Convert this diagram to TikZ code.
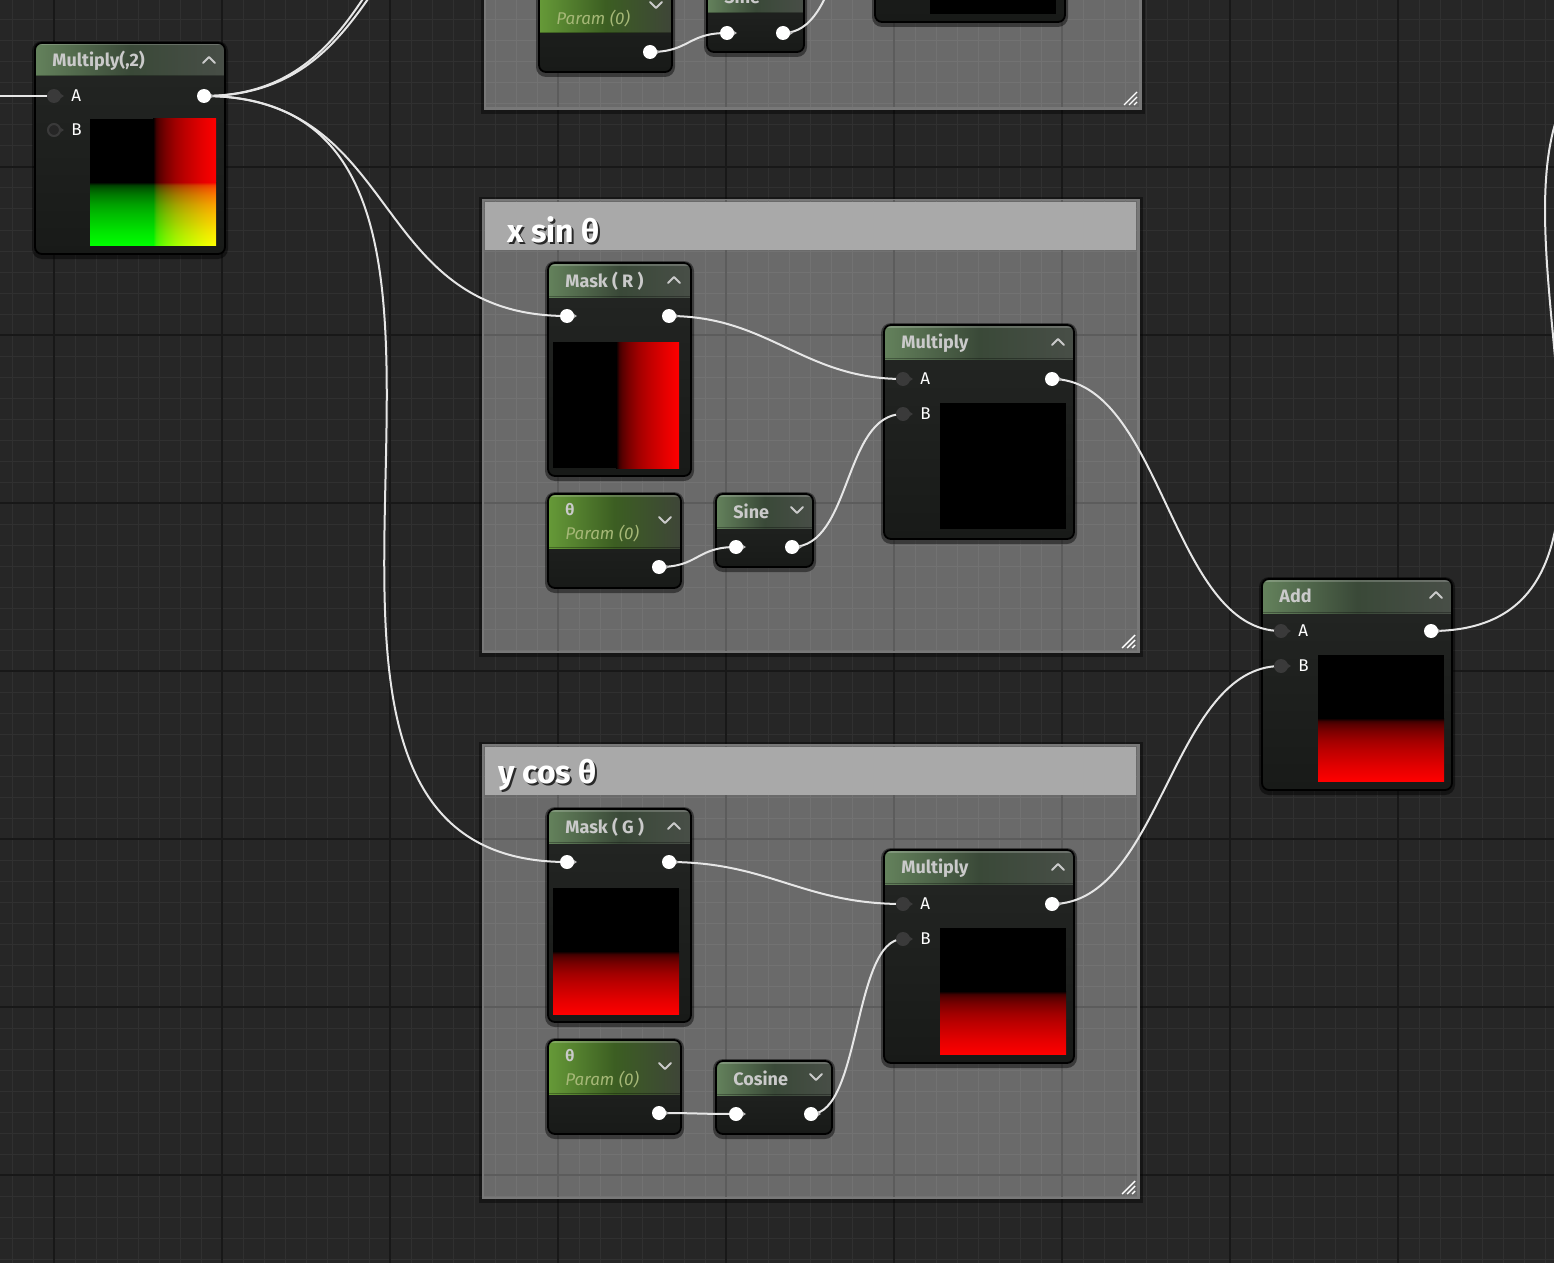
\documentclass[tikz,border=0pt]{standalone}
\usepackage{fontspec}
\setmainfont{Fira Sans}
\usetikzlibrary{calc}
\definecolor{bgc}{HTML}{262626}
\definecolor{gminc}{HTML}{303030}
\definecolor{gmajc}{HTML}{181818}
\definecolor{grpbodyc}{HTML}{6A6A6A}
\definecolor{grpminc}{HTML}{727272}
\definecolor{grpmajc}{HTML}{5C5C5C}
\definecolor{grpedgec}{HTML}{787878}
\definecolor{grphdrc}{HTML}{A9A9A9}
\definecolor{bodyT}{HTML}{242624}
\definecolor{bodyB}{HTML}{181A18}
\definecolor{hdrL}{HTML}{64825C}
\definecolor{hdrM}{HTML}{3A4938}
\definecolor{hdrR}{HTML}{484E47}
\definecolor{phdrL}{HTML}{669A38}
\definecolor{phdrM}{HTML}{3C5E22}
\definecolor{phdrR}{HTML}{3E4538}
\definecolor{titlec}{HTML}{CACACA}
\definecolor{paramc}{HTML}{A6B877}
\definecolor{wirec}{HTML}{E6E6E6}
\definecolor{pindark}{HTML}{3A3A3A}
\definecolor{pintri}{HTML}{B8B8B8}
\pgfdeclarehorizontalshading{rampRh}{100bp}{rgb(0bp)=(0,0,0); rgb(25bp)=(0,0,0); rgb(27.5bp)=(0.25,0,0); rgb(30bp)=(0.35,0,0); rgb(35bp)=(0.48,0,0); rgb(42.5bp)=(0.63,0,0); rgb(50bp)=(0.735,0,0); rgb(62.5bp)=(0.88,0,0); rgb(75bp)=(1,0,0); rgb(100bp)=(1,0,0)}
\pgfdeclareverticalshading{rampRv}{100bp}{rgb(0bp)=(1,0,0); rgb(25bp)=(1,0,0); rgb(37.5bp)=(0.88,0,0); rgb(50bp)=(0.735,0,0); rgb(57.5bp)=(0.63,0,0); rgb(65bp)=(0.48,0,0); rgb(70bp)=(0.35,0,0); rgb(72.5bp)=(0.25,0,0); rgb(75bp)=(0,0,0); rgb(100bp)=(0,0,0)}
\pgfdeclareverticalshading{rampGv}{100bp}{rgb(0bp)=(0,1,0); rgb(25bp)=(0,1,0); rgb(37.5bp)=(0,0.88,0); rgb(50bp)=(0,0.735,0); rgb(57.5bp)=(0,0.63,0); rgb(65bp)=(0,0.48,0); rgb(70bp)=(0,0.35,0); rgb(72.5bp)=(0,0.25,0); rgb(75bp)=(0,0,0); rgb(100bp)=(0,0,0)}
\newcommand\gridlines[2]{%
  \foreach \gx in {12,33,...,1554} \draw[#1] (\gx,-350) -- (\gx,1265);
  \foreach \gy in {-337,-316,...,1263} \draw[#1] (-2,\gy) -- (1556,\gy);
  \foreach \gx in {54,222,...,1554} \draw[#2] (\gx,-350) -- (\gx,1265);
  \foreach \gy in {-337,-169,...,1263} \draw[#2] (-2,\gy) -- (1556,\gy);
}
\newcommand\uegroup[4]{%
  \fill[black,opacity=0.4] (#1-3,#2-2) rectangle (#3+3,#4+4);
  \fill[grpedgec] (#1,#2) rectangle (#3,#4);
  \fill[grpbodyc] (#1+2,#2+2) rectangle (#3-3,#4-3);
  \begin{scope}
    \clip (#1+2,#2+2) rectangle (#3-3,#4-3);
    \gridlines{grpmin}{grpmaj}
  \end{scope}
  \fill[grphdrc] (#1+3,#2+3) rectangle (#3-4,#2+51);
  \draw[white,line width=0.7pt] (#3-18,#4-5) -- (#3-5,#4-18) (#3-13,#4-5) -- (#3-5,#4-13) (#3-8,#4-5) -- (#3-5,#4-8);
}
\newcommand\uebox[6]{%
  \fill[black,opacity=0.45,rounded corners=5pt] (#1-3,#2-2) rectangle (#3+3,#4+5);
  \begin{scope}
    \clip[rounded corners=3.5pt] (#1,#2) rectangle (#3,#4);
    \shade[top color=bodyT,bottom color=bodyB] (#1,#2) rectangle (#3,#4);
    \shade[#6] (#1,#2) rectangle (#3,#5);
    \fill[white,opacity=0.2] (#1,#2) rectangle (#3,#2+2.5);
    \fill[black,opacity=0.3] (#1,#5-1) rectangle (#3,#5);
  \end{scope}
  \draw[black,line width=0.9pt,rounded corners=3.5pt] (#1,#2) rectangle (#3,#4);
}
\newcommand\caretup[1]{\draw[caret] ($(#1)+(-6,3)$) -- ($(#1)+(0,-3)$) -- ($(#1)+(6,3)$);}
\newcommand\caretdn[1]{\draw[caret] ($(#1)+(-6,-3)$) -- ($(#1)+(0,3)$) -- ($(#1)+(6,-3)$);}
\newcommand\pinW[1]{\fill[pintri] ($(#1)+(3,-4.5)$) -- ($(#1)+(10,0)$) -- ($(#1)+(3,4.5)$) -- cycle; \fill[white] (#1) circle[radius=7];}
\newcommand\pinD[1]{\fill[pindark] ($(#1)+(3,-4.5)$) -- ($(#1)+(10,0)$) -- ($(#1)+(3,4.5)$) -- cycle; \fill[pindark] (#1) circle[radius=7];}
\newcommand\pinRing[1]{\fill[pindark] ($(#1)+(3,-4.5)$) -- ($(#1)+(10,0)$) -- ($(#1)+(3,4.5)$) -- cycle; \fill[black!85] (#1) circle[radius=7]; \draw[pindark,line width=1pt] (#1) circle[radius=6];}
\newcommand\wire[3]{\draw[wire] (#1) .. controls ($(#1)+(#3,0)$) and ($(#2)+(-#3,0)$) .. (#2);}
\begin{document}
\begin{tikzpicture}[x=0.5pt,y=-0.5pt,
  gmin/.style={draw=gminc,line width=0.5pt},
  gmaj/.style={draw=gmajc,line width=0.6pt},
  grpmin/.style={draw=grpminc,line width=0.5pt},
  grpmaj/.style={draw=grpmajc,line width=0.6pt},
  hdr/.style={left color=hdrL,right color=hdrR,middle color=hdrM},
  phdr/.style={left color=phdrL,right color=phdrR,middle color=phdrM},
  htitle/.style={text=titlec,font=\fontsize{9}{10}\selectfont\bfseries,anchor=west,inner sep=0pt},
  plbl/.style={text=white,font=\fontsize{8.5}{10}\selectfont,anchor=west,inner sep=0pt},
  ptheta/.style={text=titlec,font=\fontsize{8}{10}\selectfont\bfseries,anchor=west,inner sep=0pt},
  pparam/.style={text=paramc,font=\fontsize{8.5}{10}\selectfont\itshape,anchor=west,inner sep=0pt},
  gtitle/.style={text=white,font=\fontsize{16}{18}\selectfont\bfseries,anchor=west,inner sep=0pt},
  gshadow/.style={text=black,opacity=0.75,font=\fontsize{16}{18}\selectfont\bfseries,anchor=west,inner sep=0pt},
  caret/.style={draw=titlec,line width=1pt,line cap=round,line join=round},
  wire/.style={draw=wirec,line width=1pt}]
\useasboundingbox (0,0) rectangle (1554,1263);
\clip (0,0) rectangle (1554,1263);
\fill[bgc] (0,0) rectangle (1554,1263);
\gridlines{gmin}{gmaj}

% groups
\uegroup{484}{-345}{1142}{110}
\uegroup{482}{199}{1140}{653}
\node[gshadow] (gt1s) at (509,232) {x sin θ};
\node[gtitle] (gt1) at (507,230) {x sin θ};
\uegroup{482}{744}{1140}{1199}
\node[gshadow] (gt2s) at (500,777) {y cos θ};
\node[gtitle] (gt2) at (498,775) {y cos θ};

% ---- Multiply(,2)
\uebox{35}{43}{225}{254}{76}{hdr}
\node[htitle] (t1) at (52,61) {Multiply(,2)};
\coordinate (c1) at (209,60); \caretup{c1}
\node[plbl] (l1a) at (71,96) {A};
\node[plbl] (l1b) at (71,130) {B};
\fill[black] (90,119) rectangle (153,182);
\shade[shading=rampRh] (153,119) rectangle (216,182);
\shade[shading=rampGv] (90,182) rectangle (153,245);
\fill[black] (153,182) rectangle (216,245);
\begin{scope}[blend group=lighten]
  \shade[shading=rampRh] (153,182) rectangle (216,245);
  \shade[shading=rampGv] (153,182) rectangle (216,245);
\end{scope}
\coordinate (m2A) at (54,96);
\coordinate (m2B) at (54,130);
\coordinate (m2out) at (204,96);

% ---- top group partial nodes
\uebox{539}{-52}{672}{72}{33}{phdr}
\node[ptheta] (tt0) at (556,-6) {θ};
\node[pparam] (tp0) at (556,19) {Param (0)};
\coordinate (c0a) at (656,5); \caretdn{c0a}
\coordinate (ptop) at (650,52);
\uebox{707}{-21}{804}{52}{13}{hdr}
\node[htitle] (ts0) at (724,-4) {Sine};
\coordinate (stin) at (727,33);
\coordinate (stout) at (783,33);
\uebox{875}{-190}{1065}{22}{-156}{hdr}
\fill[black] (930,-112) rectangle (1056,14);
\coordinate (mulTTB) at (894,-103);

% ---- x sin group nodes
\uebox{548}{263}{691}{476}{297}{hdr}
\node[htitle] (t2) at (565,281) {Mask ( R )};
\coordinate (c2) at (674,280); \caretup{c2}
\fill[black] (553,342) rectangle (616,468);
\shade[shading=rampRh] (616,342) rectangle (679,468);
\coordinate (mRin) at (567,316);
\coordinate (mRout) at (669,316);

\uebox{884}{325}{1074}{539}{359}{hdr}
\node[htitle] (t3) at (901,343) {Multiply};
\coordinate (c3) at (1058,342); \caretup{c3}
\node[plbl] (l3a) at (920,379) {A};
\node[plbl] (l3b) at (920,414) {B};
\fill[black] (940,403) rectangle (1066,529);
\coordinate (mulTA) at (903,379);
\coordinate (mulTB) at (903,414);
\coordinate (mulTout) at (1052,379);

\uebox{548}{494}{681}{588}{548}{phdr}
\node[ptheta] (tt1) at (565,510) {θ};
\node[pparam] (tp1) at (565,534) {Param (0)};
\coordinate (c4) at (665,520); \caretdn{c4}
\coordinate (pRout) at (659,567);

\uebox{716}{494}{813}{567}{528}{hdr}
\node[htitle] (t5) at (733,511) {Sine};
\coordinate (c5) at (797,510); \caretdn{c5}
\coordinate (sin) at (736,547);
\coordinate (sout) at (792,547);

% ---- Add
\uebox{1262}{579}{1452}{790}{613}{hdr}
\node[htitle] (t6) at (1279,596) {Add};
\coordinate (c6) at (1436,595); \caretup{c6}
\node[plbl] (l6a) at (1298,631) {A};
\node[plbl] (l6b) at (1298,666) {B};
\fill[black] (1318,655) rectangle (1444,718);
\shade[shading=rampRv] (1318,718) rectangle (1444,781);
\coordinate (addA) at (1281,631);
\coordinate (addB) at (1281,666);
\coordinate (addout) at (1431,631);

% ---- y cos group nodes
\uebox{548}{809}{691}{1022}{843}{hdr}
\node[htitle] (t7) at (565,827) {Mask ( G )};
\coordinate (c7) at (674,826); \caretup{c7}
\fill[black] (553,888) rectangle (679,951);
\shade[shading=rampRv] (553,951) rectangle (679,1014);
\coordinate (mGin) at (567,862);
\coordinate (mGout) at (669,862);

\uebox{884}{850}{1074}{1063}{884}{hdr}
\node[htitle] (t8) at (901,868) {Multiply};
\coordinate (c8) at (1058,867); \caretup{c8}
\node[plbl] (l8a) at (920,904) {A};
\node[plbl] (l8b) at (920,939) {B};
\fill[black] (940,928) rectangle (1066,991);
\shade[shading=rampRv] (940,991) rectangle (1066,1054);
\coordinate (mulBA) at (903,904);
\coordinate (mulBB) at (903,939);
\coordinate (mulBout) at (1052,904);

\uebox{548}{1040}{681}{1134}{1094}{phdr}
\node[ptheta] (tt2) at (565,1056) {θ};
\node[pparam] (tp2) at (565,1080) {Param (0)};
\coordinate (c9) at (665,1066); \caretdn{c9}
\coordinate (pCout) at (659,1113);

\uebox{716}{1061}{832}{1134}{1095}{hdr}
\node[htitle] (t10) at (733,1078) {Cosine};
\coordinate (c10) at (816,1077); \caretdn{c10}
\coordinate (cin) at (736,1114);
\coordinate (cout) at (811,1114);

% ---- wires
\coordinate (leftin) at (-40,96);
\coordinate (up1) at (567,-150);
\coordinate (up2) at (567,-170);
\coordinate (rtgt) at (1675,40);
\draw[wire] (leftin) -- (m2A);
\wire{m2out}{up1}{200}
\wire{m2out}{up2}{200}
\wire{m2out}{mRin}{200}
\wire{m2out}{mGin}{380}
\wire{ptop}{stin}{40}
\wire{stout}{mulTTB}{60}
\wire{mRout}{mulTA}{100}
\wire{pRout}{sin}{40}
\wire{sout}{mulTB}{60}
\wire{mulTout}{addA}{110}
\wire{mGout}{mulBA}{100}
\wire{pCout}{cin}{40}
\wire{cout}{mulBB}{50}
\wire{mulBout}{addB}{110}
\wire{addout}{rtgt}{299}

% ---- pins
\pinD{m2A} \pinRing{m2B} \pinW{m2out}
\pinW{ptop} \pinW{stin} \pinW{stout}
\pinW{mRin} \pinW{mRout}
\pinD{mulTA} \pinD{mulTB} \pinW{mulTout}
\pinW{pRout} \pinW{sin} \pinW{sout}
\pinD{addA} \pinD{addB} \pinW{addout}
\pinW{mGin} \pinW{mGout}
\pinD{mulBA} \pinD{mulBB} \pinW{mulBout}
\pinW{pCout} \pinW{cin} \pinW{cout}
\end{tikzpicture}
\end{document}
